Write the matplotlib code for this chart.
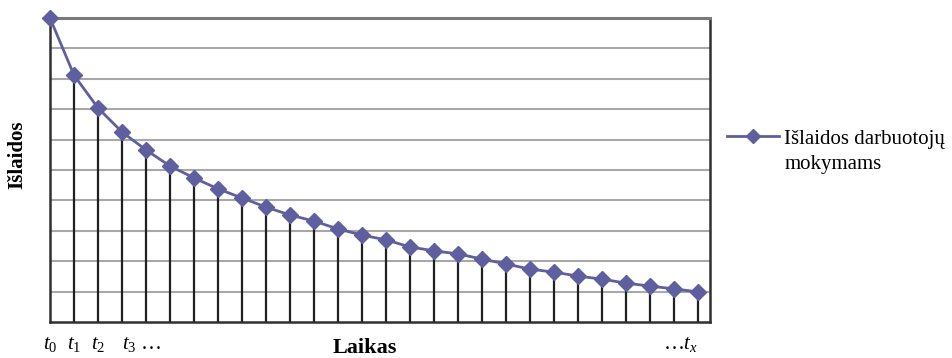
import matplotlib
matplotlib.use("Agg")
import matplotlib.pyplot as plt
from matplotlib.lines import Line2D

plt.rcParams["font.family"] = ["Liberation Serif", "DejaVu Serif"]
plt.rcParams["mathtext.fontset"] = "custom"
plt.rcParams["mathtext.rm"] = "Liberation Serif"
plt.rcParams["mathtext.it"] = "Liberation Serif:italic"

# islaidos per laika (santykiniai vienetai)
laikas = list(range(28))
islaidos = [10.0, 8.12, 7.04, 6.25, 5.66, 5.13, 4.74, 4.38, 4.08, 3.78,
            3.52, 3.32, 3.06, 2.86, 2.70, 2.47, 2.34, 2.24, 2.07, 1.91,
            1.74, 1.64, 1.51, 1.41, 1.28, 1.18, 1.09, 0.99]
tick_pos = [0, 1, 2, 3, 27]
tick_txt = [r"$t_0$", r"$t_1$", r"$t_2$", r"$t_3$ …", r"…$t_x$"]

spalva = "#5f5fa0"

fig = plt.figure(figsize=(9.52, 3.58), dpi=100)
ax = fig.add_axes([50 / 952, 36 / 358, 660 / 952, 304 / 358])

ax.set_xlim(0, 27.5)
ax.set_ylim(0, 10)

# horizontalios linijos
for yy in range(1, 10):
    ax.axhline(yy, color="#a8a8a8", lw=1.5, zorder=1)

# vertikalios linijos nuo tasku iki asies
ax.vlines(laikas[1:], 0, islaidos[1:], color="#202020", lw=1.6, zorder=2)

ax.plot(laikas, islaidos, color=spalva, lw=2, marker="D", markersize=8,
        markeredgecolor=spalva, zorder=3, clip_on=False)

for side in ["left", "bottom", "right"]:
    ax.spines[side].set_color("#303030")
    ax.spines[side].set_linewidth(1.8)
ax.spines["top"].set_color("#7a7a7a")
ax.spines["top"].set_linewidth(2.2)

ax.set_yticks([])
ax.set_xticks(tick_pos)
ax.set_xticklabels(tick_txt, fontsize=15)
ax.tick_params(axis="x", length=0, pad=9)
labels = ax.get_xticklabels()
labels[0].set_x(-0.2)
labels[3].set_horizontalalignment("left")
labels[3].set_x(2.8)
labels[4].set_horizontalalignment("right")
labels[4].set_x(27.6)

ax.text(0.477, -0.085, "Laikas", transform=ax.transAxes, ha="center",
        va="center", fontsize=16, fontweight="bold")
ax.text(-0.05, 0.55, "Išlaidos", transform=ax.transAxes, ha="center",
        va="center", rotation=90, fontsize=15, fontweight="bold")

h1 = Line2D([], [], color=spalva, lw=2, marker="D", markersize=7)
h2 = Line2D([], [], color="none")
fig.legend([h1, h2], ["Išlaidos darbuotojų", "mokymams"], frameon=False,
           loc="upper left", bbox_to_anchor=(727 / 952, 1 - 129 / 358),
           fontsize=15, handlelength=2.5, handletextpad=0.25,
           labelspacing=0.3, borderpad=0, borderaxespad=0)

fig.savefig("out.png", dpi=100)
